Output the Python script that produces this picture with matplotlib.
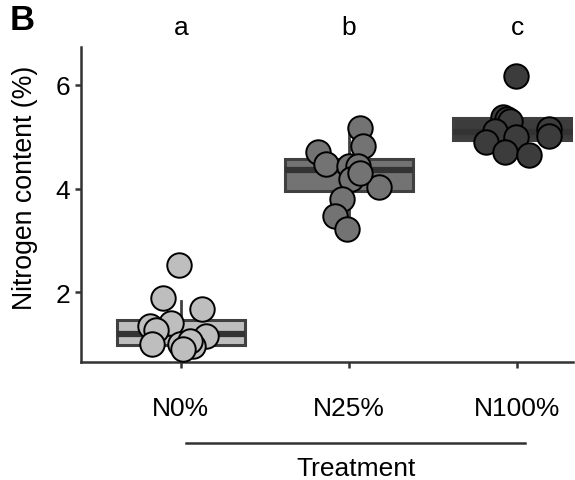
import numpy as np
import matplotlib
matplotlib.use('Agg')
import matplotlib.pyplot as plt
import matplotlib.transforms as mtransforms
from matplotlib.lines import Line2D

plt.rcParams['font.family'] = ['Liberation Sans', 'DejaVu Sans']

groups = ['N0%', 'N25%', 'N100%']
letters = ['a', 'b', 'c']
fills = ['#bebebe', '#737373', '#3c3c3c']

# box stats
q1 = [0.99, 3.96, 4.93]
med = [1.19, 4.36, 5.10]
q3 = [1.46, 4.57, 5.36]
whislo = [0.90, 3.41, 4.70]
whishi = [1.84, 5.19, 5.40]

# points (x offset from group centre, value)
n0_dx = [-0.01, -0.105, 0.125, -0.06, -0.185, -0.15, -0.17, 0.15, -0.005, 0.075, 0.055, 0.015]
n0_y = [2.53, 1.88, 1.68, 1.41, 1.34, 1.27, 1.00, 1.15, 1.00, 0.97, 1.06, 0.90]
n25_dx = [0.065, 0.085, -0.185, -0.14, 0.0, 0.055, 0.01, 0.175, -0.045, -0.085, -0.015, 0.065]
n25_y = [5.16, 4.82, 4.70, 4.47, 4.44, 4.44, 4.19, 4.04, 3.80, 3.48, 3.22, 4.31]
n100_dx = [-0.01, -0.085, -0.065, -0.045, -0.135, 0.19, 0.19, -0.01, -0.185, -0.075, 0.07]
n100_y = [6.17, 5.38, 5.34, 5.31, 5.12, 5.15, 5.02, 4.99, 4.89, 4.70, 4.64]

fig = plt.figure(figsize=(5.75, 4.81), dpi=100)
ax = fig.add_axes([0.1409, 0.246, 0.8556, 0.654])

stats = []
for i in range(3):
    stats.append({'med': med[i], 'q1': q1[i], 'q3': q3[i],
                  'whislo': whislo[i], 'whishi': whishi[i], 'fliers': []})
bp = ax.bxp(stats, positions=[1, 2, 3], widths=0.76, patch_artist=True,
            showcaps=False, showfliers=False,
            boxprops=dict(edgecolor='#404040', linewidth=2.2),
            whiskerprops=dict(color='#404040', linewidth=2),
            medianprops=dict(color='#333333', linewidth=4.5, solid_capstyle='butt'))
for patch, c in zip(bp['boxes'], fills):
    patch.set_facecolor(c)

pts = [(n0_dx, n0_y), (n25_dx, n25_y), (n100_dx, n100_y)]
for i, (dx, yv) in enumerate(pts):
    ax.scatter(np.array(dx) + i + 1, yv, s=310, color=fills[i],
               edgecolor='black', linewidth=1.4, zorder=5, clip_on=False)

ax.set_xlim(0.407, 3.33)
ax.set_ylim(0.66, 6.73)
ax.set_xticks([1, 2, 3])
ax.set_xticklabels(groups)
ax.set_yticks([2, 4, 6])
ax.tick_params(axis='both', labelsize=19, colors='#333333', width=1.8,
               length=4.5, labelcolor='black')
ax.tick_params(axis='x', pad=20)
for s in ['top', 'right']:
    ax.spines[s].set_visible(False)
for s in ['left', 'bottom']:
    ax.spines[s].set_color('#333333')
    ax.spines[s].set_linewidth(1.8)
ax.set_ylabel('Nitrogen content (%)', fontsize=19.2)
ax.yaxis.set_label_coords(-0.088, 0.555)

tr = mtransforms.blended_transform_factory(ax.transData, fig.transFigure)
for i, l in enumerate(letters):
    ax.text(i + 1, 0.942, l, fontsize=19, ha='center', va='center', transform=tr)

# bracket line above the axis title
fig.add_artist(Line2D([186 / 575, 525 / 575], [1 - 444 / 481, 1 - 444 / 481],
                      color='#333333', linewidth=1.8))
fig.text(356 / 575, 1 - 469 / 481, 'Treatment', fontsize=19, ha='center', va='center')
fig.text(22 / 575, 1 - 20 / 481, 'B', fontsize=25, fontweight='bold', ha='center', va='center')

fig.savefig('out.png', dpi=100)
